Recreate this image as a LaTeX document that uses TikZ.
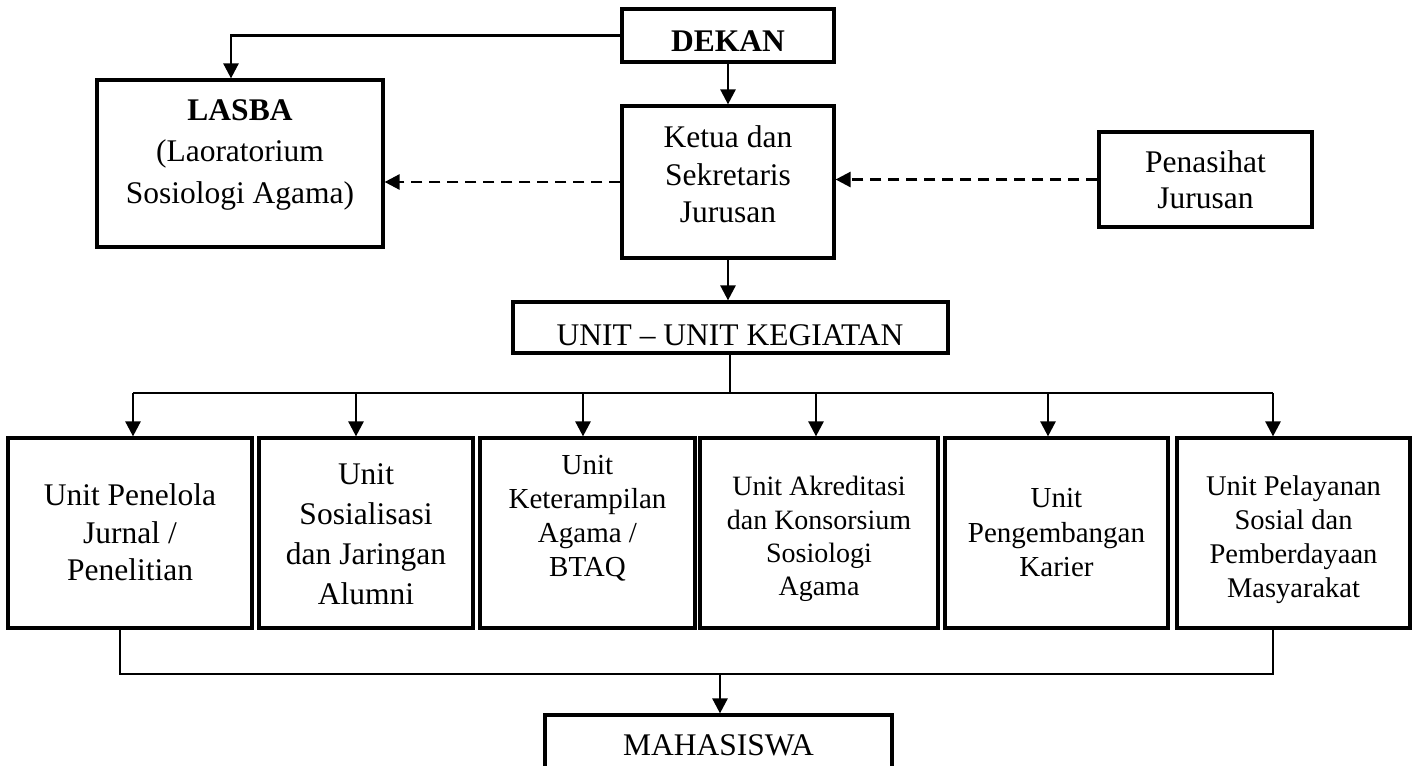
\documentclass[tikz,border=0pt]{standalone}
\usepackage{fontspec}
\setmainfont{Liberation Serif}
\usetikzlibrary{arrows.meta,fit}
\begin{document}
\begin{tikzpicture}[x=0.5pt,y=-0.5pt,
 box/.style={draw, line width=1.6pt, inner sep=0pt},
 txt/.style={align=center, inner sep=0pt},
 ln/.style={line width=1.3pt},
 arr/.style={ln, -{Triangle[length=7.5pt,width=7.5pt]}},
 darr/.style={arr, dash pattern=on 5.5pt off 3.5pt}]
\useasboundingbox (0,0) rectangle (1417,765);
\fill[white] (0,0) rectangle (1417,765);
\clip (0,0) rectangle (1417,765);
% boxes
\node[box, fit={(622,9) (834,62)}] (dekan) {};
\node[box, fit={(97,80) (383,247)}] (lasba) {};
\node[box, fit={(622,106) (834,258)}] (ketua) {};
\node[box, fit={(1099,132) (1312,227)}] (pen) {};
\node[box, fit={(513,302) (948,353)}] (unit) {};
\node[box, fit={(8,438) (252,628)}] (b1) {};
\node[box, fit={(259,438) (473,628)}] (b2) {};
\node[box, fit={(480,438) (695,628)}] (b3) {};
\node[box, fit={(700,438) (938,628)}] (b4) {};
\node[box, fit={(945,438) (1168,628)}] (b5) {};
\node[box, fit={(1177,438) (1410,628)}] (b6) {};
\node[box, fit={(545,715) (892,800)}] (maha) {};
% texts
\node[txt, anchor=base, font=\fontsize{15.75}{18.75}\selectfont\bfseries] (dekan-t) at (728,52) {DEKAN};
\node[txt, anchor=north, font=\fontsize{15.75}{20.75}\selectfont] (lasba-t) at (240,99) {\textbf{LASBA}\\(Laoratorium\\Sosiologi Agama)};
\node[txt, anchor=north, font=\fontsize{15.75}{18.75}\selectfont] (ketua-t) at (728,125.5) {Ketua dan\\Sekretaris\\Jurusan};
\node[txt, anchor=north, font=\fontsize{15.75}{18}\selectfont] (pen-t) at (1205.5,150.5) {Penasihat\\Jurusan};
\node[txt, anchor=base, font=\fontsize{15.75}{18.75}\selectfont] (unit-t) at (730,345) {UNIT -- UNIT KEGIATAN};
\node[txt, anchor=north, font=\fontsize{15.75}{18.75}\selectfont] (b1-t) at (130,483.5) {Unit Penelola\\Jurnal /\\Penelitian};
\node[txt, anchor=north, font=\fontsize{15.75}{20}\selectfont] (b2-t) at (366,463.5) {Unit\\Sosialisasi\\dan Jaringan\\Alumni};
\node[txt, anchor=north, font=\fontsize{14.5}{17}\selectfont] (b3-t) at (587.5,455) {Unit\\Keterampilan\\Agama /\\BTAQ};
\node[txt, anchor=north, font=\fontsize{14}{16.65}\selectfont] (b4-t) at (819,476) {Unit Akreditasi\\dan Konsorsium\\Sosiologi\\Agama};
\node[txt, anchor=north, font=\fontsize{14.5}{17.25}\selectfont] (b5-t) at (1056.5,488) {Unit\\Pengembangan\\Karier};
\node[txt, anchor=north, font=\fontsize{14.25}{17}\selectfont] (b6-t) at (1293.5,475.5) {Unit Pelayanan\\Sosial dan\\Pemberdayaan\\Masyarakat};
\node[txt, anchor=base, font=\fontsize{15.75}{18.75}\selectfont] (maha-t) at (718.5,755) {MAHASISWA};
% connectors
\draw[arr] (dekan.west) -| ([xshift=-4.5pt]lasba.north);
\draw[arr] (dekan.south) -- (ketua.north);
\draw[darr] (ketua.west) -- (ketua.west -| lasba.east);
\draw[darr] (pen.west) -- (pen.west -| ketua.east);
\draw[arr] (ketua.south) -- (ketua.south |- unit.north);
\coordinate (busC) at (730,393);
\coordinate (d1) at (133,393);
\coordinate (d2) at (356,393);
\coordinate (d3) at (583,393);
\coordinate (d4) at (816,393);
\coordinate (d5) at (1048,393);
\coordinate (d6) at (1273,393);
\draw[ln] (unit.south -| busC) -- (busC);
\draw[ln] (d1) -- (d6);
\draw[arr] (d1) -- (d1 |- b1.north);
\draw[arr] (d2) -- (d2 |- b2.north);
\draw[arr] (d3) -- (d3 |- b3.north);
\draw[arr] (d4) -- (d4 |- b4.north);
\draw[arr] (d5) -- (d5 |- b5.north);
\draw[arr] (d6) -- (d6 |- b6.north);
\coordinate (low) at (720,674);
\draw[ln] ([xshift=-5pt]b1.south) |- (low) -| ([xshift=-10.25pt]b6.south);
\draw[arr] (low) -- (low |- maha.north);
\end{tikzpicture}
\end{document}
